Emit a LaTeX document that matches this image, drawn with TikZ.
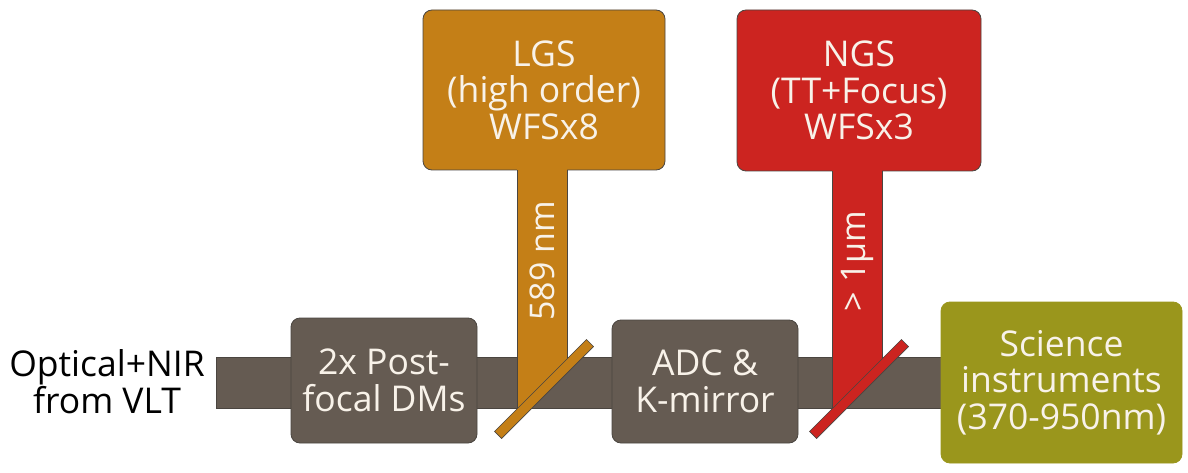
\documentclass[tikz,border=0pt]{standalone}
\usepackage{fontspec}
\setmainfont{Open Sans}
\definecolor{beam}{HTML}{655B52}
\definecolor{edge}{HTML}{4A4540}
\definecolor{lgs}{HTML}{C47F17}
\definecolor{ngs}{HTML}{CC2420}
\definecolor{sci}{HTML}{9A961C}
\definecolor{txt}{HTML}{F8F2E9}
\begin{document}
\begin{tikzpicture}[x=1pt,y=-1pt,
  box/.style={draw=edge, line width=0.8pt, rounded corners=9pt, text=txt, align=center,
    font=\fontsize{35.5}{36.5}\selectfont, inner sep=0pt},
  mirror/.style={draw=edge, line width=0.6pt, minimum width=130pt, minimum height=10pt,
    inner sep=0pt, rotate=45},
  stemline/.style={draw=edge, line width=0.8pt},
  lab/.style={text=txt, font=\fontsize{34}{36}\selectfont, rotate=90, inner sep=0pt}]
\useasboundingbox (0,0) rectangle (1188,473);
% beam
\coordinate (bs) at (216,357);
\coordinate (be) at (960,408);
\draw[fill=beam, draw=edge, line width=0.8pt] (bs) rectangle (be);
% boxes on beam
\node[box, fill=beam, minimum width=186pt, minimum height=125pt] (dm) at (384,380.5) {2x Post-\\focal DMs};
\node[box, fill=beam, minimum width=186pt, minimum height=123pt] (adc) at (705,381.5) {ADC \&\\K-mirror};
\node[box, fill=sci, draw=sci, minimum width=241pt, minimum height=161pt] (sci) at (1061.5,382.5) {Science\\instruments\\(370-950nm)};
% WFS boxes
\node[box, fill=lgs, minimum width=242pt, minimum height=160pt] (lgs) at (544,90) {LGS\\(high order)\\WFSx8};
\node[box, fill=ngs, minimum width=244pt, minimum height=161pt] (ngs) at (859,90.5) {NGS\\(TT+Focus)\\WFSx3};
% stems
\coordinate (l1) at (517,170); \coordinate (l2) at (567,170);
\coordinate (l3) at (567,359); \coordinate (l4) at (517,409);
\fill[lgs] (517,169) -- (567,169) -- (l3) -- (l4) -- cycle;
\draw[stemline] (l1) -- (l4) (l2) -- (l3);
\coordinate (n1) at (832,171); \coordinate (n2) at (882,171);
\coordinate (n3) at (882,359); \coordinate (n4) at (832,409);
\fill[ngs] (832,170) -- (882,170) -- (n3) -- (n4) -- cycle;
\draw[stemline] (n1) -- (n4) (n2) -- (n3);
% mirrors
\node[mirror, fill=lgs] (m1) at (544,389) {};
\node[mirror, fill=ngs] (m2) at (859,389) {};
% labels
\node[lab] (w1) at (542,261) {589 nm};
\node[lab] (w2) at (857,261) {> 1µm};
\node[align=center, font=\fontsize{35.5}{35}\selectfont, inner sep=0pt] (src) at (107,382) {Optical+NIR\\from VLT};
\end{tikzpicture}
\end{document}
